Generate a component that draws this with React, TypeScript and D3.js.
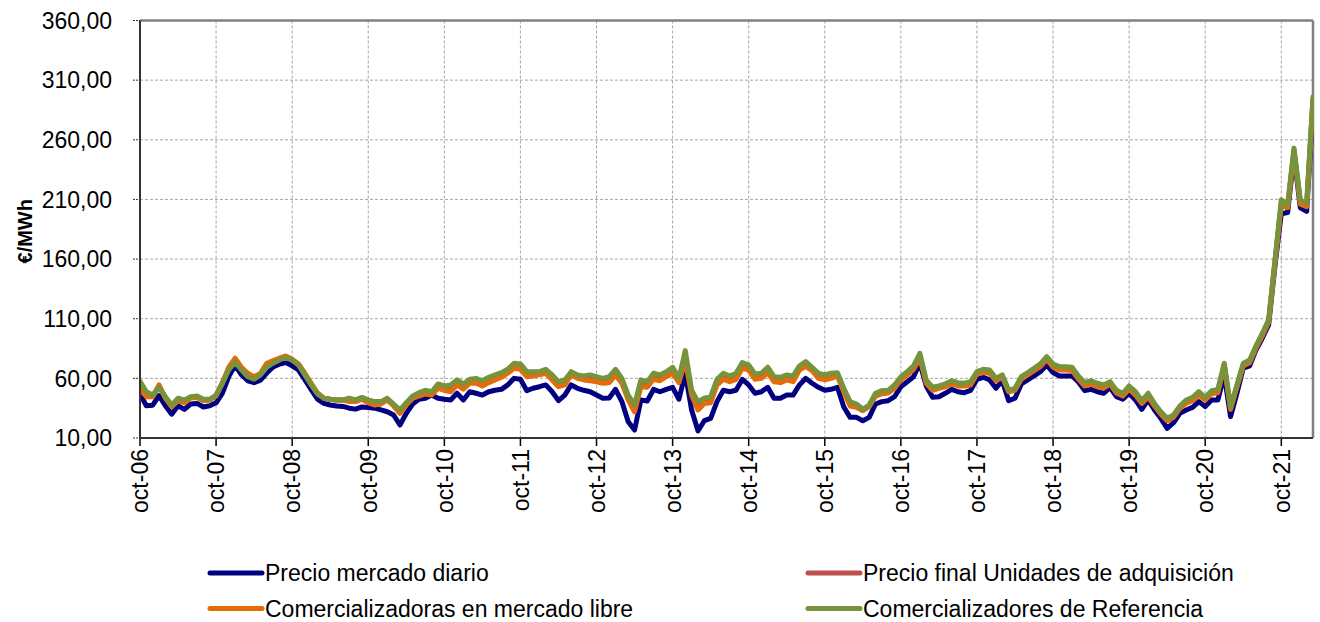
import React from "react";
import * as d3 from "d3";

// Monthly categories: oct-06 .. mar-22
const months: Date[] = d3.utcMonths(new Date(Date.UTC(2006, 9, 1)), new Date(Date.UTC(2022, 3, 1)));

const tickLabels = [
  "oct-06", "oct-07", "oct-08", "oct-09", "oct-10", "oct-11", "oct-12", "oct-13",
  "oct-14", "oct-15", "oct-16", "oct-17", "oct-18", "oct-19", "oct-20", "oct-21",
];

const yTicks = [10, 60, 110, 160, 210, 260, 310, 360];

const seriesNames = [
  "Precio mercado diario",
  "Precio final Unidades de adquisición",
  "Comercializadoras en mercado libre",
  "Comercializadores de Referencia",
];

const precioMercadoDiario = [
  47, 37, 37.5, 45.5, 37, 30, 37, 34, 38.5, 39, 36, 37,
  39.5, 47.7, 61.5, 71, 63, 58, 56.4, 58.5, 64.5, 69.5, 72, 73.3,
  70.5, 67, 59, 50.5, 42.5, 39, 37.7, 36.8, 36.5, 35, 34.2, 36,
  35.5, 35, 33.5, 32, 29.3, 20.9, 30.7, 38.5, 42.5, 43.3, 46, 43.3,
  42.5, 41.9, 47.5, 41.9, 48.8, 47.5, 46, 48.8, 50, 50.8, 54.5, 60,
  59.2, 49.7, 51.7, 53, 54.5, 48.8, 41.3, 46, 54.5, 51.7, 50, 48.8,
  46, 43.3, 43.5, 50.8, 40.5, 23.7, 16.7, 41.9, 41, 50.8, 48.8, 50.8,
  52.5, 42.5, 64.3, 33.5, 16, 24.5, 26.5, 40.5, 50, 48.8, 50, 59.2,
  54.5, 47.5, 48.8, 52.5, 43.3, 43.3, 46, 46, 54.5, 60, 55.9, 52.5,
  50, 50.8, 52.5, 36, 27.3, 27.3, 24.5, 27.3, 38.5, 40.5, 41.3, 44.6,
  53, 57.2, 61.4, 73, 53.6, 44.1, 44.6, 47.5, 50.8, 48.8, 48, 50,
  59.2, 60.9, 58.7, 51.7, 58, 41.3, 43.3, 55.3, 58.7, 62, 65.6, 71.2,
  64.8, 62, 62, 62, 57, 49.7, 50.8, 48.8, 47.5, 52.5, 44.6, 42.5,
  47.5, 41.9, 34.1, 41.9, 33.5, 26.5, 18.1, 22.8, 30.7, 33.5, 35.7, 40.5,
  36.3, 41.9, 41.9, 62.9, 27.9, 47.5, 68.5, 70.4, 83.8, 93.6, 104.8, 154,
  198, 199, 247, 203, 200, 288,
];

const precioFinalUnidades = [
  53, 46, 45, 53.5, 44, 37, 42, 40.5, 44, 44.5, 42, 42,
  45.5, 56, 68, 75, 68, 63, 60, 63.5, 71, 73.8, 76, 78,
  75.5, 71.5, 63.5, 55, 47.2, 43.3, 42.5, 41.9, 41.9, 42, 41, 43,
  40.5, 39, 39.5, 42.5, 37.5, 32, 38.5, 44, 46.5, 48.5, 47.5, 53.5,
  52, 51.5, 56.5, 53, 57.5, 58, 56, 58.5, 60.8, 62.8, 66, 70.5,
  70, 63.5, 63.8, 64.2, 66, 60.8, 55, 56.5, 64.2, 61.5, 60.3, 60.5,
  59.3, 58, 59, 65.2, 58, 44, 35, 56, 55, 61.8, 60.5, 63.5,
  66.8, 58.2, 79.3, 48, 37, 41, 42, 56.8, 61.8, 59.6, 61.8, 70.8,
  69, 61.5, 62.2, 67, 59.3, 58.6, 60.8, 59.6, 68.7, 72, 67.9, 62.2,
  60.8, 62.2, 63.4, 50.2, 38.6, 37.1, 33.5, 37, 46.3, 48.3, 48.8, 53.1,
  60, 64.2, 69, 79, 57.3, 51.2, 52.6, 54.1, 56.6, 55, 54.7, 55.8,
  64.6, 66.2, 65.6, 59, 61.9, 49.4, 50.8, 60.3, 63.8, 67.5, 70.9, 77.1,
  70.7, 68.4, 68.4, 67.9, 60.7, 55, 56.6, 54.4, 53.1, 56.2, 48.8, 46.3,
  52.3, 47.4, 40.1, 46, 37.9, 31, 25.5, 28.3, 35.8, 40.4, 42.7, 47.4,
  43, 48.3, 49.4, 71.5, 35.1, 53.5, 71.5, 74.2, 86.2, 96.7, 108, 158,
  207, 204, 251.5, 208, 205.5, 294.5,
];

const comercializadorasLibre = [
  51, 44.6, 44.6, 54.5, 43.3, 36.3, 41.3, 39.6, 43.6, 44, 41.3, 41.9,
  45.3, 56.4, 69.3, 77, 69.3, 64.3, 61.4, 64.3, 72.7, 74.9, 76.9, 78.8,
  76, 72, 64.3, 55.9, 47.7, 43.3, 42.5, 41.9, 41.9, 40.5, 40.5, 42.5,
  39.5, 37.7, 38.5, 41.9, 36.8, 30.7, 37.7, 43.3, 45.2, 46.9, 46, 51.7,
  50, 48.8, 54.5, 51, 55.9, 55.9, 53.6, 56.4, 58.7, 60.9, 64.3, 68.5,
  67.6, 61.4, 62, 62.9, 64.3, 58.7, 53, 54.5, 62.9, 60, 58.7, 58,
  57.2, 55.9, 56.4, 62.9, 55.9, 41.9, 32, 53, 52.5, 59.2, 58, 61.4,
  64.3, 56.4, 75.4, 46, 33.5, 39, 39.6, 54.5, 59.2, 57.2, 59.2, 68.5,
  67, 59.2, 60, 64.8, 57.2, 56.4, 58.7, 57.2, 67, 70, 66.5, 60,
  58.7, 60, 62, 48.8, 36.8, 35.7, 32.9, 36.3, 45.2, 47, 47.7, 51.7,
  58.7, 62.9, 67.6, 76.9, 55.9, 50, 51.7, 53, 55.3, 53.6, 53.6, 54.5,
  63.7, 64.8, 64.3, 58, 60.9, 48.8, 50, 59.2, 62.9, 66.5, 69.8, 76,
  69.3, 67, 67, 66.5, 59.5, 53.6, 55.3, 53, 51.7, 55.3, 47.7, 45.2,
  51, 46, 39, 44.6, 36.8, 30, 24.5, 27.3, 34.8, 39, 41.3, 46,
  41.9, 47, 48, 70.4, 34, 52.5, 70.4, 73, 85.3, 95.6, 107, 157,
  205, 203, 250, 206, 204, 293,
];

const comercializadoresReferencia = [
  57.5, 48.8, 46, 52.5, 44.6, 37.7, 43.3, 41.9, 44.6, 45.3, 42.5, 42.5,
  46, 55.9, 67, 73.5, 67, 61.4, 59.2, 62.9, 69.3, 72.7, 75.4, 77.5,
  75.4, 71.2, 62.9, 54.5, 46.9, 43.3, 42.5, 41.9, 41.9, 43.3, 41.9, 44,
  42, 40.5, 40.5, 43.3, 38.5, 33.5, 39.6, 45.2, 48, 50, 48.8, 55.3,
  53.6, 54.5, 58.7, 55.3, 59.2, 60, 58, 60.9, 62.9, 64.8, 67.6, 72.7,
  72.1, 65.6, 65.6, 65.6, 67.6, 62.9, 57.2, 58.7, 65.6, 62.9, 62, 62.9,
  61.4, 60, 61.4, 67.6, 60, 46, 37.7, 58.7, 57.2, 64.3, 62.9, 65.6,
  69.3, 60, 83.3, 50, 40.5, 43.3, 44.6, 59.2, 64.3, 62, 64.3, 73.2,
  71.2, 63.7, 64.3, 69.3, 61.4, 60.9, 62.9, 62, 70.4, 74, 69.3, 64.3,
  62.9, 64.3, 64.8, 51.7, 40.5, 38.5, 34.1, 37.7, 47.5, 49.7, 50, 54.5,
  61.4, 65.6, 70.4, 81, 58.7, 52.5, 53.6, 55.3, 58, 56.4, 55.9, 57.2,
  65.6, 67.6, 67, 60, 62.9, 50, 51.7, 61.4, 64.8, 68.5, 72.1, 78.2,
  72.1, 69.8, 69.8, 69.3, 62, 56.4, 58, 55.9, 54.5, 57.2, 50, 47.5,
  53.6, 48.8, 41.3, 47.5, 39, 32, 26.5, 29.3, 36.8, 41.9, 44.1, 48.8,
  44.1, 49.7, 50.8, 72.7, 36.3, 54.5, 72.7, 75.4, 87.2, 97.8, 109, 159,
  209.7, 205.5, 253, 209.7, 207, 296,
];

const seriesColors = ["#000080", "#C0504D", "#E46C0A", "#77933C"];
const seriesData = [precioMercadoDiario, precioFinalUnidades, comercializadorasLibre, comercializadoresReferencia];

const W = 1320;
const H = 622;
const M = { left: 140, right: 1313, top: 20.5, bottom: 438 };
const FONT = "Arial, 'Liberation Sans', sans-serif";
const FS = 23;

const fmt = d3.formatLocale({ decimal: ",", thousands: ".", grouping: [3], currency: ["", " €"] }).format(".2f");

export default function App() {
  const x = d3.scaleLinear().domain([0, months.length - 1]).range([M.left, M.right]);
  const y = d3.scaleLinear().domain([10, 360]).range([M.bottom, M.top]);
  const line = d3
    .line<number>()
    .x((_, i) => x(i))
    .y((d) => y(d));

  const octIdx = months.map((m, i) => (m.getUTCMonth() === 9 ? i : -1)).filter((i) => i >= 0);

  const legendItems = [
    { name: seriesNames[0], color: seriesColors[0], lx: 210, ly: 573 },
    { name: seriesNames[1], color: seriesColors[1], lx: 808, ly: 573 },
    { name: seriesNames[2], color: seriesColors[2], lx: 210, ly: 608.5 },
    { name: seriesNames[3], color: seriesColors[3], lx: 808, ly: 608.5 },
  ];

  return (
    <svg
      width={W}
      height={H}
      style={{ position: "absolute", left: 0, top: 0, background: "#fff" }}
      fontFamily={FONT}
    >
      <rect x={0} y={0} width={W} height={H} fill="#fff" />
      <defs>
        <clipPath id="plotclip">
          <rect x={M.left} y={M.top - 3} width={M.right - M.left + 1} height={M.bottom - M.top + 3} />
        </clipPath>
      </defs>
      {/* horizontal gridlines */}
      {yTicks.slice(1, -1).map((t) => (
        <line key={"hg" + t} x1={M.left} x2={M.right} y1={y(t)} y2={y(t)} stroke="#a6a6a6" strokeWidth={1} strokeDasharray="3,2" />
      ))}
      {/* vertical gridlines */}
      {octIdx.slice(1).map((i) => (
        <line key={"vg" + i} x1={x(i)} x2={x(i)} y1={M.top} y2={M.bottom} stroke="#a6a6a6" strokeWidth={1} strokeDasharray="3,2" />
      ))}
      {/* border top/right */}
      <line x1={M.left} x2={M.right} y1={M.top} y2={M.top} stroke="#808080" strokeWidth={2.5} />
      <line x1={M.right} x2={M.right} y1={M.top} y2={M.bottom} stroke="#808080" strokeWidth={2.5} />
      {/* y ticks & labels */}
      {yTicks.map((t) => (
        <g key={"yt" + t}>
          <line x1={M.left - 7} x2={M.left} y1={y(t)} y2={y(t)} stroke="#333" strokeWidth={1} strokeDasharray="2,1" />
          <text x={112} y={y(t)} dy="0.36em" textAnchor="end" fontSize={FS} fill="#000">
            {fmt(t)}
          </text>
        </g>
      ))}
      {/* x ticks & labels */}
      {octIdx.map((i, k) => (
        <g key={"xt" + i}>
          <line x1={x(i)} x2={x(i)} y1={M.bottom} y2={M.bottom + 8} stroke="#000" strokeWidth={1.5} />
          <text
            transform={`translate(${x(i)},${M.bottom + 11}) rotate(-90)`}
            dy="0.36em"
            textAnchor="end"
            fontSize={FS}
            fill="#000"
          >
            {tickLabels[k]}
          </text>
        </g>
      ))}
      {/* series */}
      <g clipPath="url(#plotclip)">
        {seriesData.map((s, k) => (
          <path
            key={"s" + k}
            d={line(s) || ""}
            fill="none"
            stroke={seriesColors[k]}
            strokeWidth={5}
            strokeLinejoin="round"
            strokeLinecap="round"
          />
        ))}
      </g>
      {/* axes */}
      <line x1={M.left} x2={M.left} y1={M.top} y2={M.bottom} stroke="#333" strokeWidth={2} />
      <line x1={M.left} x2={M.right} y1={M.bottom} y2={M.bottom} stroke="#333" strokeWidth={2} />
      {/* y title */}
      <text
        transform={`translate(25,${(M.top + M.bottom) / 2 + 2}) rotate(-90)`}
        textAnchor="middle"
        dy="0.36em"
        fontSize={20}
        fontWeight="bold"
        fill="#000"
      >
        €/MWh
      </text>
      {/* legend */}
      {legendItems.map((it) => (
        <g key={it.name}>
          <line x1={it.lx} x2={it.lx + 52} y1={it.ly} y2={it.ly} stroke={it.color} strokeWidth={5} strokeLinecap="round" />
          <text x={it.lx + 55} y={it.ly} dy="0.36em" fontSize={FS} fill="#000">
            {it.name}
          </text>
        </g>
      ))}
    </svg>
  );
}
